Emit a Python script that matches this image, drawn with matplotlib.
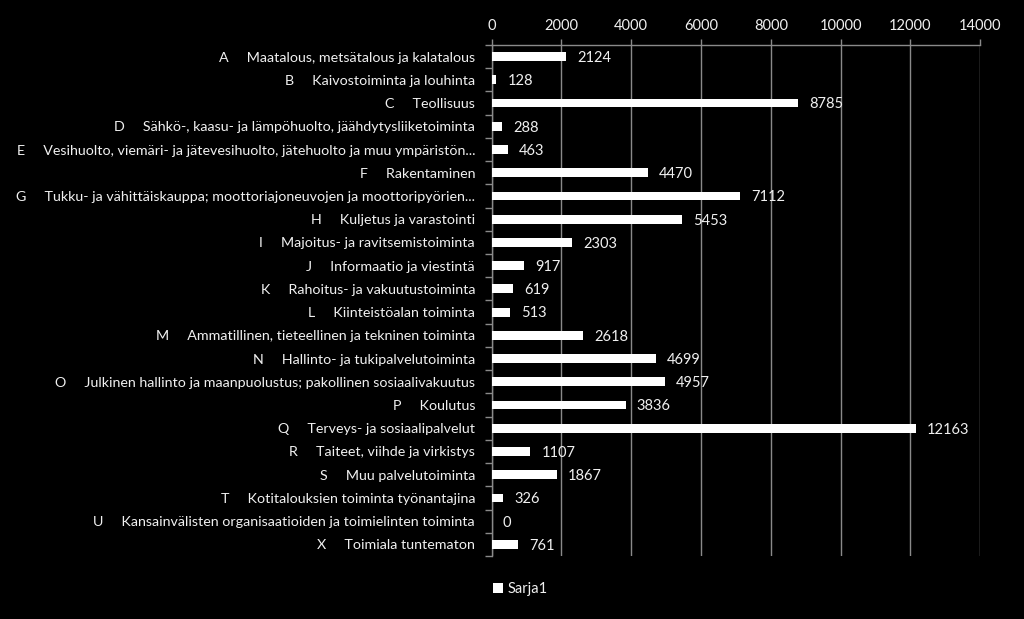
import numpy as np
import matplotlib
matplotlib.use("Agg")
import matplotlib.pyplot as plt

# Toimialat ja arvot (Sarja1)
kirjaimet = ["A", "B", "C", "D", "E", "F", "G", "H", "I", "J", "K", "L",
             "M", "N", "O", "P", "Q", "R", "S", "T", "U", "X"]
toimialat = [
    "Maatalous, metsätalous ja kalatalous",
    "Kaivostoiminta ja louhinta",
    "Teollisuus",
    "Sähkö-, kaasu- ja lämpöhuolto, jäähdytysliiketoiminta",
    "Vesihuolto, viemäri- ja jätevesihuolto, jätehuolto ja muu ympäristön...",
    "Rakentaminen",
    "Tukku- ja vähittäiskauppa; moottoriajoneuvojen ja moottoripyörien...",
    "Kuljetus ja varastointi",
    "Majoitus- ja ravitsemistoiminta",
    "Informaatio ja viestintä",
    "Rahoitus- ja vakuutustoiminta",
    "Kiinteistöalan toiminta",
    "Ammatillinen, tieteellinen ja tekninen toiminta",
    "Hallinto- ja tukipalvelutoiminta",
    "Julkinen hallinto ja maanpuolustus; pakollinen sosiaalivakuutus",
    "Koulutus",
    "Terveys- ja sosiaalipalvelut",
    "Taiteet, viihde ja virkistys",
    "Muu palvelutoiminta",
    "Kotitalouksien toiminta työnantajina",
    "Kansainvälisten organisaatioiden ja toimielinten toiminta",
    "Toimiala tuntematon",
]
arvot = [2124, 128, 8785, 288, 463, 4470, 7112, 5453, 2303, 917, 619, 513,
         2618, 4699, 4957, 3836, 12163, 1107, 1867, 326, 0, 761]
x_ticks = [0, 2000, 4000, 6000, 8000, 10000, 12000, 14000]

plt.rcParams['font.family'] = ['Lato', 'DejaVu Sans']
tausta = 'black'
harmaa = '#8a8a8a'
teksti = '#f0f0f0'

fig = plt.figure(figsize=(10.24, 6.19), dpi=100, facecolor=tausta)
ax = fig.add_axes([0.4802, 0.1018, 0.4769, 0.8255], facecolor=tausta)

n = len(arvot)
y = np.arange(n)
ax.barh(y, arvot, height=0.38, color='white', zorder=3, label='Sarja1')

for yi, v in zip(y, arvot):
    ax.annotate(str(v), (v, yi), xytext=(8, -1), textcoords='offset points',
                va='center', ha='left', color=teksti, fontsize=10.5)

ax.set_xlim(0, 14000)
ax.set_ylim(n - 0.5, -0.5)
ax.set_xticks(x_ticks)
ax.xaxis.tick_top()
ax.tick_params(axis='x', colors=harmaa, labelcolor=teksti, labelsize=10.5,
               length=4, width=1, pad=5)
ax.grid(axis='x', color=harmaa, linewidth=1, zorder=0)

labels = [f"{k}     {t}" for k, t in zip(kirjaimet, toimialat)]
ax.set_yticks(y)
ax.set_yticklabels(labels)
ax.set_yticks(np.arange(-0.5, n, 1), minor=True)
ax.tick_params(axis='y', which='major', length=0, labelcolor=teksti,
               labelsize=10.3, pad=12)
ax.tick_params(axis='y', which='minor', length=5, color=harmaa, width=1)

for s in ['right', 'bottom']:
    ax.spines[s].set_visible(False)
for s in ['top', 'left']:
    ax.spines[s].set_color(harmaa)
    ax.spines[s].set_linewidth(1)

leg = fig.legend(loc='center', bbox_to_anchor=(0.508, 0.048), frameon=False,
                 fontsize=10.5, handlelength=0.7, handleheight=0.7,
                 handletextpad=0.3)
for t in leg.get_texts():
    t.set_color(teksti)

fig.savefig('out.png', dpi=100, facecolor=tausta)
